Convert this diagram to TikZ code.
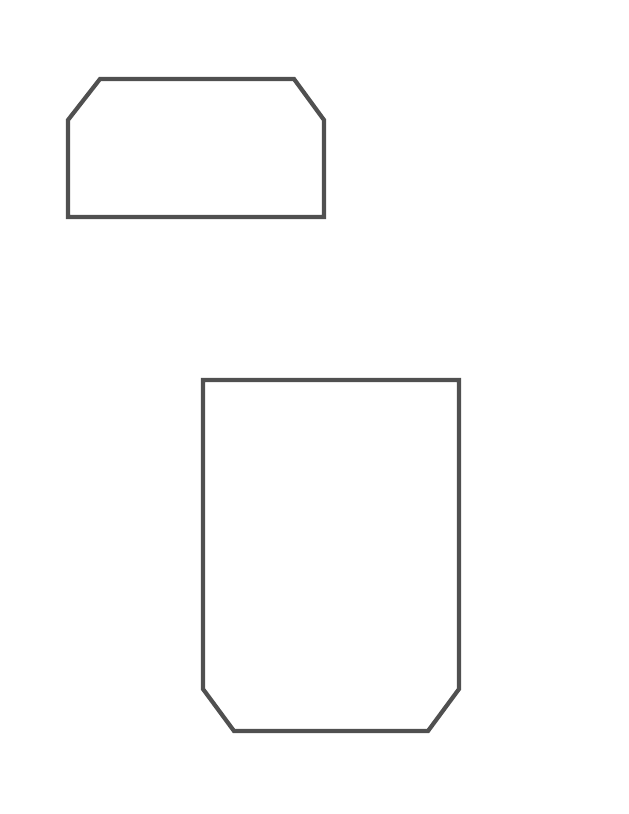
\documentclass[tikz,border=0pt]{standalone}
\begin{document}
\begin{tikzpicture}[x=1pt,y=-1pt,
  shapeline/.style={draw={rgb,255:red,80;green,80;blue,80}, line width=4.2pt, line join=miter}]
\useasboundingbox (0,0) rectangle (629,814);
\draw[shapeline] (100,79) -- (294,79) -- (324,120) -- (324,217) -- (68,217) -- (68,120) -- cycle;
\draw[shapeline] (203,380) -- (459,380) -- (459,689) -- (428,731) -- (234,731) -- (203,689) -- cycle;
\end{tikzpicture}
\end{document}
